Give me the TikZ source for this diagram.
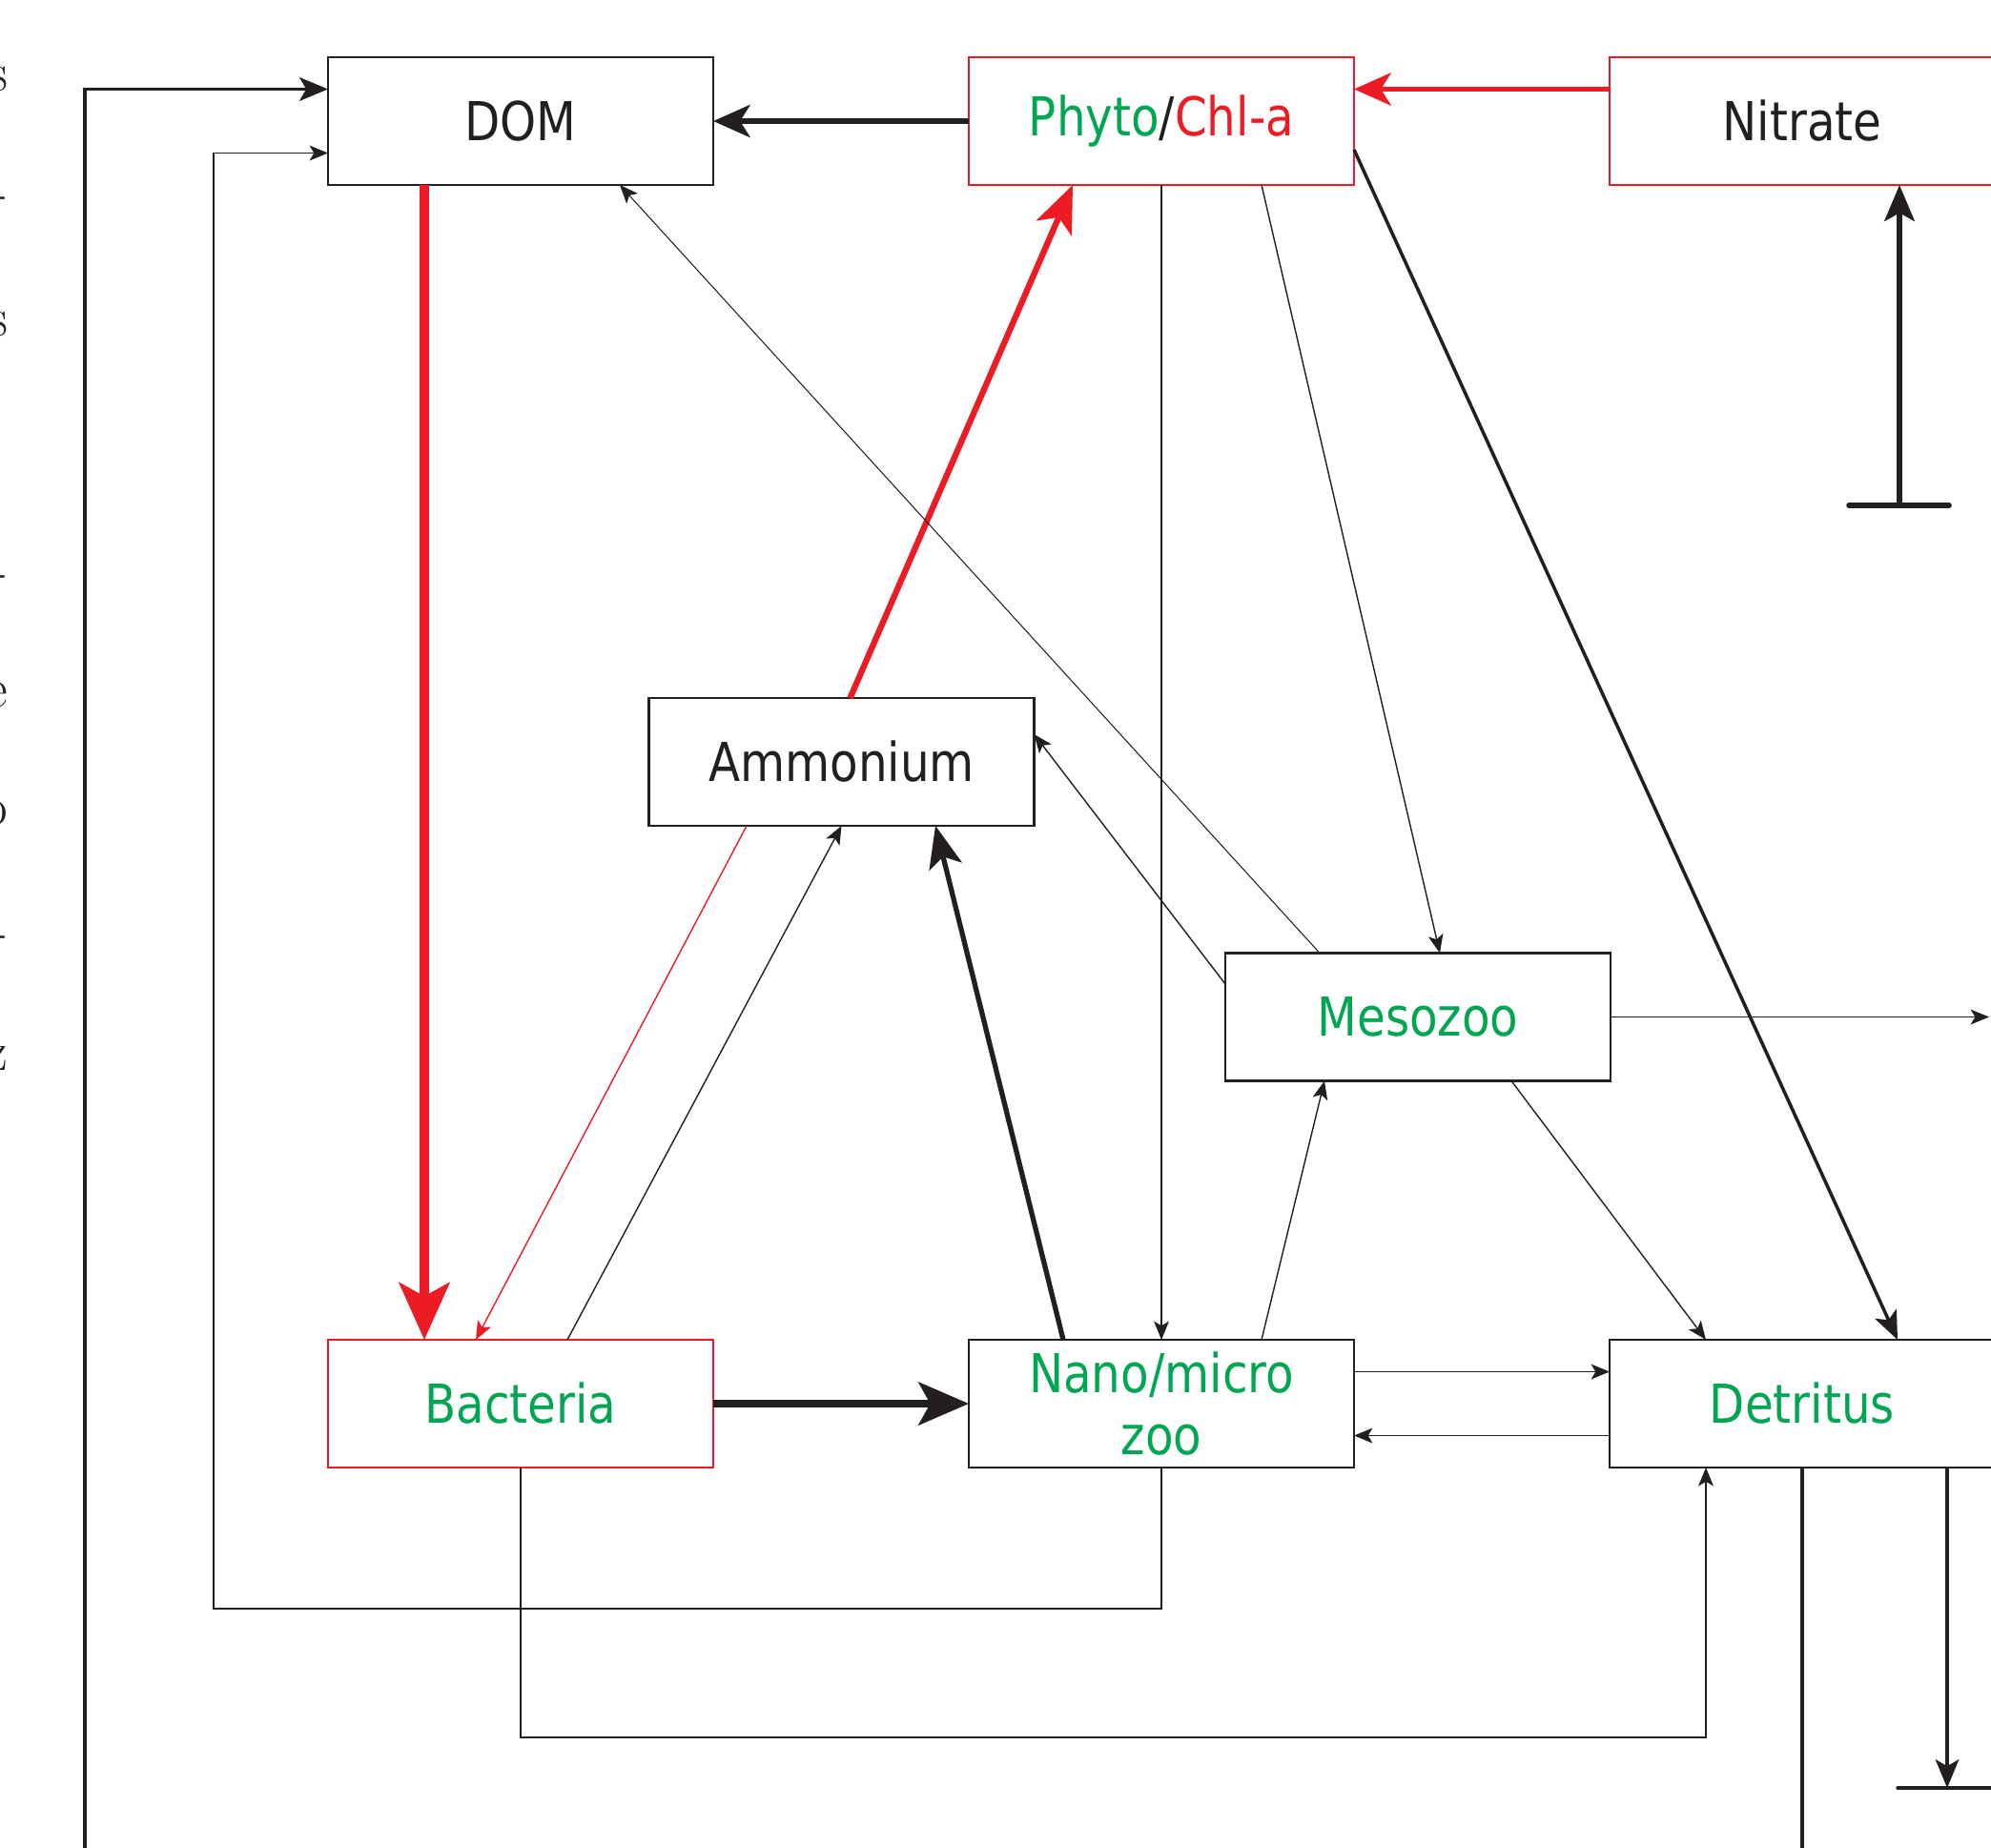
\documentclass[tikz,border=0pt]{standalone}
\usepackage{fontspec}
\usetikzlibrary{positioning,calc,arrows.meta}
\newfontfamily\labelfont[FakeStretch=0.86]{DejaVu Sans}
\definecolor{ecored}{RGB}{237,28,36}
\definecolor{ecogreen}{RGB}{0,166,81}
\definecolor{ecoink}{RGB}{35,31,32}

\begin{document}
\begin{tikzpicture}[
  node distance=12.11cm and 2.68cm,
  box/.style={draw=ecoink,line width=0.6pt,fill=white,align=center,inner sep=0pt,outer sep=0pt,
              minimum width=4.04cm,minimum height=1.34cm,text=ecoink,
              font=\labelfont\fontsize{16}{18.5}\selectfont},
  redbox/.style={box,draw=ecored},
  link/.style={draw=ecoink,line width=0.4pt,-{Stealth[length=5.5pt,width=4.5pt,inset=1.3pt]}},
  flux/.style={link,line width=0.5pt},
  heavy/.style={draw=ecoink,line width=1pt,-{Stealth[length=8.5pt,width=7pt,inset=2pt]}},
  strong/.style={draw=ecoink,line width=1.6pt,-{Stealth[length=11pt,width=9.7pt,inset=3pt]}}
]
  \useasboundingbox (0,0) rectangle (20.88,-19.37);
  \clip (0,0) rectangle (20.88,-19.37);

  % cut-off text at the left margin
  \foreach \g/\y [count=\i] in {s/0.95,-/2.20,s/3.52,-/6.17,e/7.41,o/8.65,-/9.95,z/11.22}
    \node[anchor=base east,inner sep=0pt,text=ecoink,font=\fontsize{16.5}{20}\selectfont] (frag\i) at (0.09,-\y) {\g};

  \node[box] (dom) at (5.46,-1.27) {DOM};
  \node[redbox, right=of dom] (phyto) {\textcolor{ecogreen}{Phyto}/\textcolor{ecored}{Chl-a}};
  \node[redbox, right=of phyto] (nitrate) {Nitrate};
  \node[redbox, below=of dom, text=ecogreen] (bact) {Bacteria};
  \node[box, right=of bact, text=ecogreen] (nano) {Nano/micro\\zoo};
  \node[box, right=of nano, text=ecogreen] (detr) {Detritus};
  \node[box] (amm) at (8.825,-7.99) {Ammonium};
  \node[box, text=ecogreen] (meso) at (14.87,-10.665) {Mesozoo};

  \coordinate (nanoloop) at (2.24,-16.87);
  \coordinate (outloop) at (0.89,-20.5);
  \coordinate (mesoout) at (20.86,-10.665);
  \coordinate (nitsrc) at ([xshift=1.02cm,yshift=-3.36cm]nitrate.south);
  \coordinate (burial) at ([xshift=1.52cm,yshift=-3.36cm]detr.south);

  % main fluxes
  \draw[strong] (phyto.west) -- (dom.east);
  \draw[strong,ecored] ([yshift=0.335cm]nitrate.west) -- ([yshift=0.335cm]phyto.east);
  \draw[ecored,line width=2.8pt,-{Stealth[length=17pt,width=15pt,inset=4pt]}] ([xshift=-1.01cm]dom.south) -- ([xshift=-1.01cm]bact.north);
  \draw[ecored,line width=1.8pt,-{Stealth[length=14pt,width=11.4pt,inset=3.5pt]}] ([xshift=0.09cm]amm.north) -- ([xshift=-0.93cm]phyto.south);
  \draw[ecoink,line width=2.2pt,-{Stealth[length=15pt,width=12.8pt,inset=3.5pt]}] (bact.east) -- (nano.west);
  \draw[ecoink,line width=1.5pt,-{Stealth[length=12.5pt,width=10pt,inset=3pt]}] ([xshift=-1.03cm]nano.north) -- ([xshift=0.985cm]amm.south);
  \draw[heavy] ([yshift=-0.30cm]phyto.east) -- ([xshift=1.0cm]detr.north);

  % minor fluxes
  \draw[link] (phyto.south) -- (nano.north);
  \draw[link] ([xshift=1.05cm]phyto.south) -- ([xshift=0.23cm]meso.north);
  \draw[link,line width=0.3pt] ([xshift=-1.03cm]meso.north) -- ([xshift=1.04cm]dom.south);
  \draw[link] ([yshift=0.345cm]meso.west) -- ([yshift=0.29cm]amm.east);
  \draw[link] (meso.east) -- (mesoout);
  \draw[link] ([xshift=0.98cm]meso.south) -- ([xshift=-1.01cm]detr.north);
  \draw[link,ecored] ([xshift=-0.995cm]amm.south) -- ([xshift=-0.47cm]bact.north);
  \draw[link] ([xshift=0.49cm]bact.north) -- (amm.south);
  \draw[link] ([xshift=1.05cm]nano.north) -- ([xshift=-0.98cm]meso.south);
  \draw[flux] ([yshift=0.335cm]nano.east) -- ([yshift=0.335cm]detr.west);
  \draw[flux] ([yshift=-0.335cm]detr.west) -- ([yshift=-0.335cm]nano.east);
  \draw[flux] (nano.south) |- (nanoloop) |- ([yshift=-0.335cm]dom.west);
  \draw[flux] (bact.south) -- ++(0,-2.83) -| ([xshift=-1.01cm]detr.south);

  % sources and sinks
  \draw[ecoink,line width=1.6pt,line cap=round] ([xshift=-0.53cm]nitsrc) -- ([xshift=0.52cm]nitsrc);
  \draw[ecoink,line width=1.6pt,-{Stealth[length=10.8pt,width=9pt,inset=2.5pt]}] (nitsrc) -- ([xshift=1.02cm]nitrate.south);
  \draw[heavy] ([xshift=1.52cm]detr.south) -- (burial);
  \draw[ecoink,line width=1pt,line cap=round] ([xshift=-0.52cm]burial) -- ([xshift=0.8cm]burial);
  \draw[heavy] (detr.south) |- (outloop) |- ([yshift=0.335cm]dom.west);
\end{tikzpicture}
\end{document}
